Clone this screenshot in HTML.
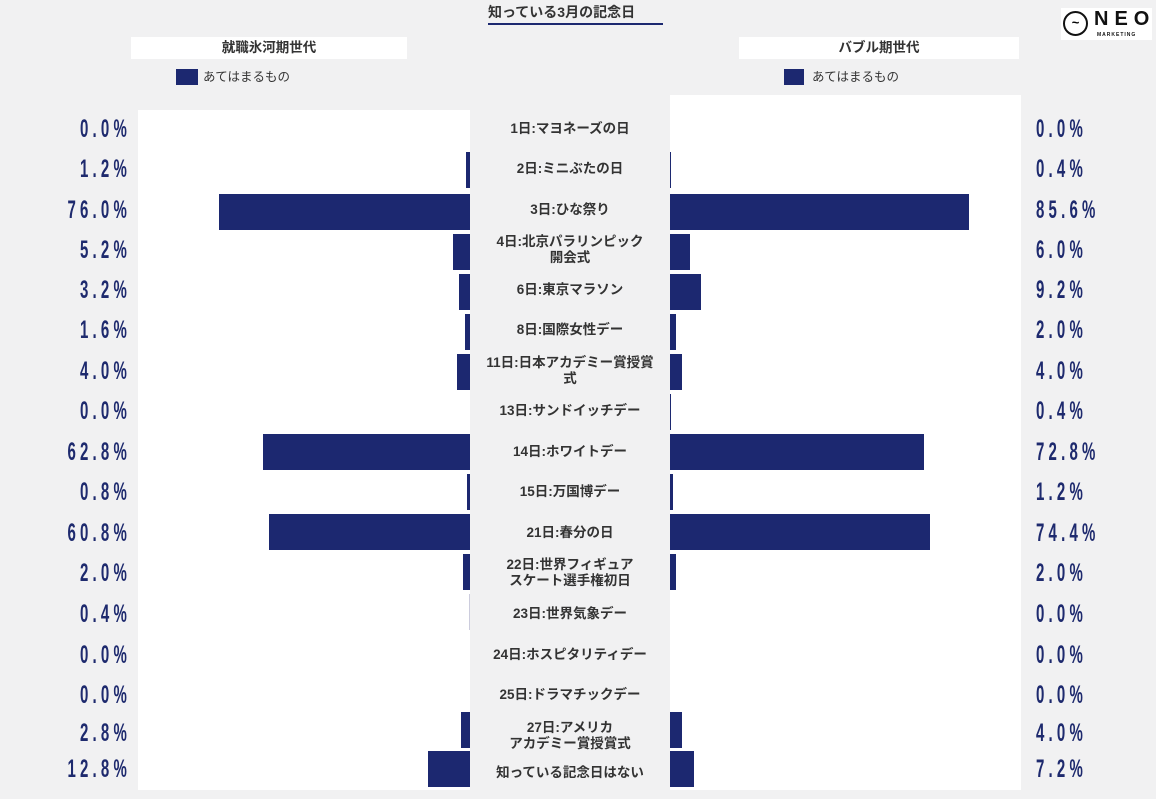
<!DOCTYPE html>
<html><head><meta charset="utf-8"><style>
*{margin:0;padding:0;box-sizing:border-box}
body{width:1156px;height:799px;background:#f1f1f2;position:relative;overflow:hidden;font-family:"Liberation Sans","Noto Sans CJK JP",sans-serif}
.a{position:absolute}
.pl{position:absolute;left:0;width:131px;text-align:right;font-family:"Liberation Sans",sans-serif;font-weight:bold;font-size:25px;letter-spacing:7px;color:#1e2a6e;line-height:24px;transform:scaleX(0.6);transform-origin:right center}
.pr{position:absolute;left:1036px;width:140px;text-align:left;font-family:"Liberation Sans",sans-serif;font-weight:bold;font-size:25px;letter-spacing:7px;color:#1e2a6e;line-height:24px;transform:scaleX(0.6);transform-origin:left center}
.lb{position:absolute;left:470px;width:200px;text-align:center;font-size:13.5px;font-weight:bold;color:#333;line-height:16px;transform:translateY(-50%)}
.bl{position:absolute;background:#1c2870;height:36px}
</style></head><body>
<div class="a" style="left:488px;top:2px;font-size:14px;font-weight:bold;color:#333">知っている3月の記念日</div>
<div class="a" style="left:488px;top:23px;width:175px;height:2px;background:#1c2870"></div>
<div class="a" style="left:1061px;top:8px;width:91px;height:32px;background:#fff"></div>
<div class="a" style="left:1063px;top:11px;width:25px;height:25px;border:2.5px solid #111;border-radius:50%;font-size:13px;line-height:19px;text-align:center;font-weight:bold">~</div>
<div class="a" style="left:1094px;top:8px;font-size:20px;font-weight:bold;letter-spacing:6px;color:#111">NEO</div>
<div class="a" style="left:1097px;top:32px;font-size:5px;font-weight:bold;letter-spacing:1px;color:#111">MARKETING</div>

<div class="a" style="left:131px;top:37px;width:276px;height:22px;background:#fff;text-align:center;font-size:13.5px;font-weight:bold;line-height:22px;color:#333">就職氷河期世代</div>
<div class="a" style="left:739px;top:37px;width:280px;height:22px;background:#fff;text-align:center;font-size:13.5px;font-weight:bold;line-height:22px;color:#333">バブル期世代</div>
<div class="a" style="left:176px;top:69px;width:22px;height:16px;background:#1c2870"></div>
<div class="a" style="left:203px;top:69px;font-size:12.5px;color:#333;line-height:16px">あてはまるもの</div>
<div class="a" style="left:784px;top:69px;width:20px;height:16px;background:#1c2870"></div>
<div class="a" style="left:812px;top:69px;font-size:12.5px;color:#333;line-height:16px">あてはまるもの</div>

<div class="a" style="left:138px;top:110px;width:332px;height:680px;background:#fff"></div>
<div class="a" style="left:670px;top:95px;width:351px;height:695px;background:#fff"></div>

<div class="bl" style="left:466px;top:152px;width:4px"></div>
<div class="bl" style="left:219px;top:194px;width:251px"></div>
<div class="bl" style="left:453px;top:234px;width:17px"></div>
<div class="bl" style="left:459px;top:274px;width:11px"></div>
<div class="bl" style="left:465px;top:314px;width:5px"></div>
<div class="bl" style="left:457px;top:354px;width:13px"></div>
<div class="bl" style="left:263px;top:434px;width:207px"></div>
<div class="bl" style="left:467px;top:474px;width:3px"></div>
<div class="bl" style="left:269px;top:514px;width:201px"></div>
<div class="bl" style="left:463px;top:554px;width:7px"></div>
<div class="bl" style="left:469px;top:594px;width:1px;background:#ccd"></div>
<div class="bl" style="left:461px;top:712px;width:9px"></div>
<div class="bl" style="left:428px;top:751px;width:42px"></div>

<div class="bl" style="left:670px;top:152px;width:1px"></div>
<div class="bl" style="left:670px;top:194px;width:299px"></div>
<div class="bl" style="left:670px;top:234px;width:20px"></div>
<div class="bl" style="left:670px;top:274px;width:31px"></div>
<div class="bl" style="left:670px;top:314px;width:6px"></div>
<div class="bl" style="left:670px;top:354px;width:12px"></div>
<div class="bl" style="left:670px;top:394px;width:1px"></div>
<div class="bl" style="left:670px;top:434px;width:254px"></div>
<div class="bl" style="left:670px;top:474px;width:3px"></div>
<div class="bl" style="left:670px;top:514px;width:260px"></div>
<div class="bl" style="left:670px;top:554px;width:6px"></div>
<div class="bl" style="left:670px;top:712px;width:12px"></div>
<div class="bl" style="left:670px;top:751px;width:24px"></div>

<div class="lb" style="top:129px">1日:マヨネーズの日</div>
<div class="lb" style="top:169px">2日:ミニぶたの日</div>
<div class="lb" style="top:210px">3日:ひな祭り</div>
<div class="lb" style="top:250px">4日:北京パラリンピック<br>開会式</div>
<div class="lb" style="top:290px">6日:東京マラソン</div>
<div class="lb" style="top:330px">8日:国際女性デー</div>
<div class="lb" style="top:371px">11日:日本アカデミー賞授賞<br>式</div>
<div class="lb" style="top:411px">13日:サンドイッチデー</div>
<div class="lb" style="top:452px">14日:ホワイトデー</div>
<div class="lb" style="top:492px">15日:万国博デー</div>
<div class="lb" style="top:533px">21日:春分の日</div>
<div class="lb" style="top:573px">22日:世界フィギュア<br>スケート選手権初日</div>
<div class="lb" style="top:614px">23日:世界気象デー</div>
<div class="lb" style="top:655px">24日:ホスピタリティデー</div>
<div class="lb" style="top:695px">25日:ドラマチックデー</div>
<div class="lb" style="top:736px">27日:アメリカ<br>アカデミー賞授賞式</div>
<div class="lb" style="top:773px">知っている記念日はない</div>

<div class="pl" style="top:117px">0.0%</div>
<div class="pl" style="top:157px">1.2%</div>
<div class="pl" style="top:198px">76.0%</div>
<div class="pl" style="top:238px">5.2%</div>
<div class="pl" style="top:278px">3.2%</div>
<div class="pl" style="top:318px">1.6%</div>
<div class="pl" style="top:359px">4.0%</div>
<div class="pl" style="top:399px">0.0%</div>
<div class="pl" style="top:440px">62.8%</div>
<div class="pl" style="top:480px">0.8%</div>
<div class="pl" style="top:521px">60.8%</div>
<div class="pl" style="top:561px">2.0%</div>
<div class="pl" style="top:602px">0.4%</div>
<div class="pl" style="top:643px">0.0%</div>
<div class="pl" style="top:683px">0.0%</div>
<div class="pl" style="top:721px">2.8%</div>
<div class="pl" style="top:757px">12.8%</div>

<div class="pr" style="top:117px">0.0%</div>
<div class="pr" style="top:157px">0.4%</div>
<div class="pr" style="top:198px">85.6%</div>
<div class="pr" style="top:238px">6.0%</div>
<div class="pr" style="top:278px">9.2%</div>
<div class="pr" style="top:318px">2.0%</div>
<div class="pr" style="top:359px">4.0%</div>
<div class="pr" style="top:399px">0.4%</div>
<div class="pr" style="top:440px">72.8%</div>
<div class="pr" style="top:480px">1.2%</div>
<div class="pr" style="top:521px">74.4%</div>
<div class="pr" style="top:561px">2.0%</div>
<div class="pr" style="top:602px">0.0%</div>
<div class="pr" style="top:643px">0.0%</div>
<div class="pr" style="top:683px">0.0%</div>
<div class="pr" style="top:721px">4.0%</div>
<div class="pr" style="top:757px">7.2%</div>
</body></html>
